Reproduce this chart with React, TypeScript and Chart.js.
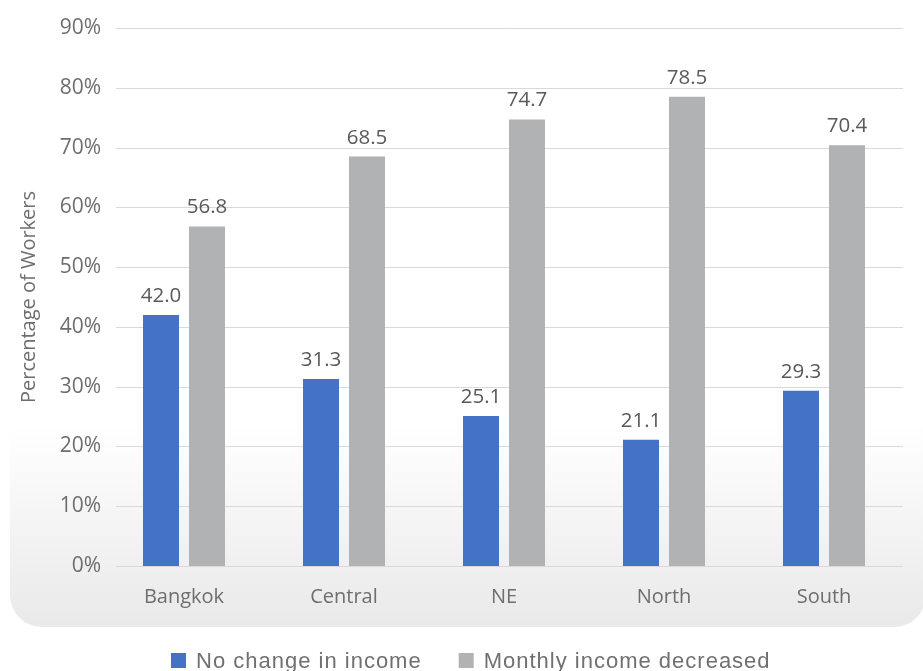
import { useEffect, useRef } from "react";
import { Chart, registerables } from "chart.js";

Chart.register(...registerables);

// Share of workers by region and income outcome (%)
const regions = ["Bangkok", "Central", "NE", "North", "South"];
const noChangeInIncome = [42.0, 31.3, 25.1, 21.1, 29.3];
const incomeDecreased = [56.8, 68.5, 74.7, 78.5, 70.4];
const seriesLabels = ["No change in income", "Monthly income decreased"];
const seriesColors = ["#4472C4", "#B1B2B4"];
const yAxisTitle = "Percentage of Workers";
const yMin = 0;
const yMax = 90;
const yStep = 10;

const TEXT_GREY = "#6E6E6E";
const LABEL_GREY = "#595959";
const OPEN_SANS = "'Open Sans', 'DejaVu Sans', sans-serif";
const LEGEND_FONT = "'Liberation Sans', Arial, sans-serif";

// Soft panel behind the plot, fading to light grey towards the bottom
const panelBackground = {
  id: "panelBackground",
  beforeDraw(chart: any) {
    const { ctx } = chart;
    ctx.save();
    const g = ctx.createLinearGradient(0, 425, 0, 627);
    g.addColorStop(0, "#ffffff");
    g.addColorStop(1, "#e9e9e9");
    ctx.fillStyle = g;
    ctx.beginPath();
    ctx.roundRect(10, -60, 916, 687, 32);
    ctx.fill();
    ctx.restore();
  },
};

// Horizontal gridlines, inset slightly from the left edge of the plot
const insetGrid = {
  id: "insetGrid",
  beforeDatasetsDraw(chart: any) {
    const { ctx, chartArea } = chart;
    const y = chart.scales.y;
    ctx.save();
    ctx.strokeStyle = "#D9D9D9";
    ctx.lineWidth = 1;
    y.ticks.forEach((t: any) => {
      const py = Math.round(y.getPixelForValue(t.value)) + 0.5;
      ctx.beginPath();
      ctx.moveTo(chartArea.left + 12, py);
      ctx.lineTo(chartArea.right - 1, py);
      ctx.stroke();
    });
    ctx.restore();
  },
};

// Value labels above each bar
const barValueLabels = {
  id: "barValueLabels",
  afterDatasetsDraw(chart: any) {
    const { ctx } = chart;
    ctx.save();
    ctx.font = `20.5px ${OPEN_SANS}`;
    ctx.fillStyle = LABEL_GREY;
    ctx.textAlign = "center";
    ctx.textBaseline = "alphabetic";
    chart.data.datasets.forEach((ds: any, di: number) => {
      const meta = chart.getDatasetMeta(di);
      meta.data.forEach((bar: any, i: number) => {
        ctx.fillText(Number(ds.data[i]).toFixed(1), bar.x, bar.y - 13);
      });
    });
    ctx.restore();
  },
};

// Legend row beneath the panel
const bottomLegend = {
  id: "bottomLegend",
  afterDraw(chart: any) {
    const { ctx } = chart;
    ctx.save();
    ctx.font = `22px ${LEGEND_FONT}`;
    (ctx as any).letterSpacing = "1px";
    ctx.textBaseline = "alphabetic";
    ctx.textAlign = "left";
    let x = 171;
    const boxTop = 653;
    const box = 15;
    chart.data.datasets.forEach((ds: any) => {
      ctx.fillStyle = ds.backgroundColor;
      ctx.fillRect(x, boxTop, box, box);
      ctx.fillStyle = "#707070";
      const tx = x + box + 10;
      ctx.fillText(ds.label, tx, 668);
      x = tx + ctx.measureText(ds.label).width + 37;
    });
    ctx.restore();
  },
};

export default function App() {
  const canvasRef = useRef<HTMLCanvasElement | null>(null);

  useEffect(() => {
    const canvas = canvasRef.current;
    if (!canvas) return;
    const chart = new Chart(canvas, {
      type: "bar",
      data: {
        labels: regions,
        datasets: [
          {
            label: seriesLabels[0],
            data: noChangeInIncome,
            backgroundColor: seriesColors[0],
            borderWidth: 0,
          },
          {
            label: seriesLabels[1],
            data: incomeDecreased,
            backgroundColor: seriesColors[1],
            borderWidth: 0,
          },
        ],
      },
      options: {
        responsive: false,
        animation: false,
        devicePixelRatio: 1,
        layout: { padding: { top: 28, right: 19, bottom: 60, left: 0 } },
        datasets: {
          bar: { categoryPercentage: 0.575, barPercentage: 0.7826 },
        },
        plugins: {
          legend: { display: false },
          tooltip: { enabled: false },
        },
        scales: {
          x: {
            grid: { display: false, drawTicks: false },
            border: { display: false },
            ticks: {
              color: TEXT_GREY,
              font: { family: OPEN_SANS, size: 20 },
              padding: 19,
            },
            afterFit: (s: any) => {
              s.height = 45;
            },
          },
          y: {
            min: yMin,
            max: yMax,
            grid: { display: false, drawTicks: false },
            border: { display: false },
            ticks: {
              stepSize: yStep,
              color: TEXT_GREY,
              font: { family: OPEN_SANS, size: 21 },
              padding: 3,
              callback: (v: any) => `${v}%`,
            },
            title: {
              display: true,
              text: yAxisTitle,
              color: TEXT_GREY,
              font: { family: OPEN_SANS, size: 20 },
              padding: { top: 17, bottom: 0 },
            },
            afterFit: (s: any) => {
              s.width = 104;
            },
          },
        },
      },
      plugins: [panelBackground, insetGrid, barValueLabels, bottomLegend],
    });
    return () => chart.destroy();
  }, []);

  return (
    <div
      style={{
        position: "fixed",
        left: 0,
        top: 0,
        width: 923,
        height: 671,
        background: "#ffffff",
      }}
    >
      <canvas ref={canvasRef} width={923} height={671} />
    </div>
  );
}
